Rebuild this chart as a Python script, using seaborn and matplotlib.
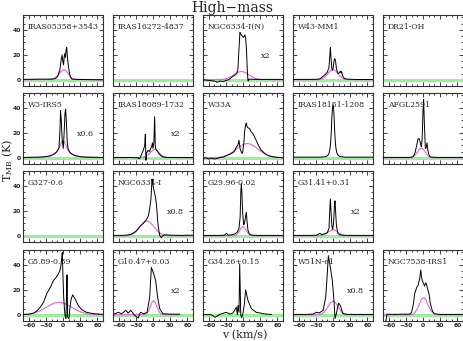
import numpy as np
import pandas as pd
import seaborn as sns
import matplotlib
matplotlib.use('Agg')
import matplotlib.pyplot as plt
from matplotlib.ticker import MultipleLocator

# ---- spectra (v in km/s, T_MB in K) ----
v_iras05358 = [-70, -40, -20, -13, -9, -5.5, -3.2, -1.6, 0, 1, 2, 3.2, 4.3, 5.4, 6.5, 7.5, 8.6, 11, 13, 16, 30, 70]
t_iras05358 = [0.3, 0.5, 0.5, 1, 3, 8, 16, 20, 14, 12, 18, 21, 18, 24, 26, 20, 14, 6, 2, 0.5, 0.2, 0]
gv_iras05358 = [-70, -22, -16, -11, -6.5, -3, 0, 2, 5.4, 8.6, 12, 16, 22, 70]
gt_iras05358 = [0, 0.3, 1, 2.5, 5, 6.9, 7.9, 8, 7.2, 5.3, 3.1, 1.2, 0.3, 0]

v_ngc6334n = [-70, -60, -50, -45, -40, -35, -30, -25, -20, -15, -11, -9, -7, -5.4, -4, -3, -1, 1, 2, 3.2, 4.5, 6, 7.5, 8.5, 9.3, 10, 12, 20, 40, 70]
t_ngc6334n = [0, -0.5, -1, -2, -1, -1.5, -0.5, 0, 2, 3.5, 5, 8, 25, 38, 37, 36, 35, 34, 35, 36, 34, 25, 8, 0, -1, 0.5, 0.5, 0.3, 0.3, 0.3]
gv_ngc6334n = [-70, -38, -32, -26, -20, -14, -8, -3, 2, 8, 14, 20, 26, 32, 70]
gt_ngc6334n = [0, 0.2, 0.56, 1.4, 2.85, 4.7, 6.2, 6.7, 6.2, 4.7, 2.85, 1.4, 0.56, 0.2, 0]

v_w43 = [-70, -40, -25, -22, -18, -14, -10, -7, -5.5, -4.6, -3.5, -2, -1, 0.5, 2, 3.2, 4.5, 6, 8.6, 11, 13, 14, 15, 17, 20, 25, 40, 70]
t_w43 = [0.3, 0.3, 0.5, 1, 2.5, 4, 6, 10, 20, 26, 18, 9, 7.5, 10, 16, 17, 15, 9, 5, 5.5, 7, 5.5, 6.5, 3, 1, 0.5, 0.2, 0.2]
gv_w43 = [-70, -25, -20, -16, -12, -8, -4, 0, 4, 8, 12, 16, 20, 25, 70]
gt_w43 = [0, 0.12, 0.56, 1.5, 3.1, 5.4, 7.5, 8.3, 7.5, 5.4, 3.1, 1.5, 0.56, 0.12, 0]

v_w3irs5 = [-70, -40, -30, -22, -16, -12, -9, -7, -5.5, -4.3, -3, -1.5, 0.5, 2, 3.5, 4.6, 6, 7.5, 9, 12, 16, 22, 30, 40, 70]
t_w3irs5 = [0.2, 0.5, 0.9, 1.6, 2.8, 4.3, 6, 8, 20, 38, 30, 15, 7.5, 20, 36, 39, 28, 12, 7, 4.3, 2.8, 1.6, 0.9, 0.5, 0.2]
gv_w3irs5 = [-70, -40, -30, -22, -16, -12, -8, -5, -2.5, 0, 2.5, 5, 8, 12, 16, 22, 30, 40, 70]
gt_w3irs5 = [0.2, 0.5, 0.9, 1.6, 2.8, 4.3, 7, 10, 12.7, 14, 12.7, 10, 7, 4.3, 2.8, 1.6, 0.9, 0.5, 0.2]

v_iras18089 = [-70, -40, -27, -24.5, -22, -19, -17, -16, -14.5, -13.4, -12.4, -11, -8.6, -6, -4, -2.5, -1, 0, 1.5, 2.9, 4.1, 6, 8, 11, 14, 18, 25, 70]
t_iras18089 = [0.3, 0.2, 0, -0.8, 0.5, 4, 6, 7.5, 10, 19, -2, 4, 6, 5, 7.5, 9, 12, 7.5, 12, 33, 8, 6.2, 5, 3, 1.5, 0.6, 0.2, 0.2]
gv_iras18089 = [-70, -20, -15, -10, -6, -3, 0, 2.9, 6, 9, 12, 16, 21, 26, 70]
gt_iras18089 = [0, 0.3, 0.8, 1.7, 3.4, 5, 6.2, 6.7, 6.2, 5, 3.4, 1.7, 0.8, 0.3, 0]

v_w33a = [-70, -65, -60, -55, -50, -45, -40, -35, -30, -25, -20, -15, -11.5, -9, -7, -5, -2.5, -1, 1.5, 3, 4.5, 5.8, 7, 9, 11.7, 14, 17, 20, 23, 27, 32, 38, 43, 50, 57, 63, 70]
t_w33a = [-0.5, 0, -1, -0.3, -1, -0.5, 0.3, 0.5, 1.5, 2.5, 3.5, 5, 8.8, 10, 14, 7, 4, 3.5, 12, 22, 26, 28, 25, 24, 23.5, 21, 19.5, 17, 14, 10, 6, 3.5, 2, 1, 0.5, 0.3, 0]
gv_w33a = [-70, -52.5, -42.5, -34.5, -28.5, -22.5, -16.5, -10.5, -4.5, 1.5, 7.5, 13.5, 19.5, 25.5, 31.5, 37.5, 43.5, 49.5, 57.5, 67.5, 70]
gt_w33a = [0, 0.08, 0.36, 1.0, 1.9, 3.3, 5.2, 7.3, 9.4, 10.9, 11.5, 10.9, 9.4, 7.3, 5.2, 3.3, 1.9, 1.0, 0.36, 0.08, 0.05]

v_iras18151 = [-70, -40, -20, -12, -9, -7, -5, -4, -3, -2, -1, 0, 1, 2, 3, 4, 5, 7, 9, 12, 20, 40, 70]
t_iras18151 = [0.5, 0.5, 0.5, 1, 2, 3.5, 8, 13, 21, 32, 40, 43, 40, 32, 21, 13, 8, 3.5, 2, 1, 0.5, 0.5, 0.5]

v_afgl2591 = [-70, -40, -22, -17, -14, -11, -9, -7, -5.8, -4, -2.9, -1.5, 0, 1.1, 2.2, 4.1, 5.5, 7, 8.5, 10, 12, 15, 25, 70]
t_afgl2591 = [0.3, 0.3, 0.3, 1, 4, 10, 15, 15.5, 14, 11, 8.8, 15, 38, 47, 30, 7.5, 8, 12, 6, 3, 1, 0.5, 0.3, 0.3]
gv_afgl2591 = [-70, -23, -19, -15, -11, -7, -2.9, 1, 5, 9, 13, 17, 70]
gt_afgl2591 = [0, 0.07, 0.4, 1.45, 3.75, 6.6, 8, 6.6, 3.75, 1.45, 0.4, 0.07, 0]

v_ngc6334i = [-70, -55, -46, -40, -35, -29, -23, -17, -11.5, -8, -5.8, -3.5, -1.7, -0.5, 1, 2.2, 3.4, 4.6, 6, 7, 8.5, 10.5, 12, 14.5, 17, 20.5, 30, 50, 70]
t_ngc6334i = [0.3, 0.3, 0.5, 1, 2, 4, 7.5, 10, 13, 16, 22, 30, 45.6, 42, 38, 35.5, 33, 30, 25, 19.5, 10, 3.5, 0, -1.5, 0, 0.8, 0.5, 0.3, 0.5]
gv_ngc6334i = [-70, -48.5, -40.5, -35.5, -30.5, -25.5, -20.5, -15.5, -10.5, -5.5, -0.5, 4.5, 9.5, 14.5, 19.5, 27.5, 70]
gt_ngc6334i = [0, 0.08, 0.5, 1.4, 3.0, 5.5, 8.5, 11, 12, 11, 8.5, 5.5, 3.0, 1.4, 0.5, 0.08, 0]

v_g2996 = [-70, -40, -32, -29, -26, -20, -14, -10, -7, -5, -3.8, -2.9, -2, -0.5, 1.1, 2.5, 4, 5.8, 7, 8.5, 10, 12, 16, 25, 70]
t_g2996 = [0.3, 0.3, 0.5, 2, 0.5, 0.8, 1.5, 3, 6, 15, 35, 42, 35, 18, 8.8, 10, 14, 19, 12, 5, 2.5, 1, 0.5, 0.3, 0.3]
gv_g2996 = [-70, -16, -12, -9, -6, -3, 0, 3, 6, 9, 12, 16, 70]
gt_g2996 = [0, 0.1, 0.63, 1.9, 4.05, 6.4, 7.5, 6.4, 4.05, 1.9, 0.63, 0.1, 0]

v_g3141 = [-70, -40, -28, -23, -20, -15, -10, -7, -5.5, -4.6, -3.5, -2, -0.5, 1, 2.5, 3.5, 4.5, 6, 8.6, 11, 15, 25, 70]
t_g3141 = [0.3, 0.3, 0.5, 2, 1, 1.5, 2.5, 6, 22, 29.6, 20, 8, 5, 10, 24, 28, 20, 8, 2, 1, 0.5, 0.3, 0.3]
gv_g3141 = [-70, -26, -20, -16, -12, -8, -4, 0, 4, 8, 12, 16, 20, 26, 70]
gt_g3141 = [0, 0.05, 0.3, 0.9, 1.8, 3.1, 4.3, 4.8, 4.3, 3.1, 1.8, 0.9, 0.3, 0.05, 0]

v_g589 = [-70, -60, -51.6, -46, -40, -34, -28.4, -22, -16.8, -12, -8.1, -5.2, -3.5, -2.3, -1.2, 0, 1.2, 2.5, 4, 5.2, 6.4, 7, 7.6, 8.1, 10.4, 12.2, 14, 16.8, 20.9, 26.7, 33, 41, 52, 64, 70]
t_g589 = [0.2, 0.5, 1.3, 3, 6, 10, 17, 22, 27.5, 30, 33, 35.5, 40, 45, 50, 30, 14, 5, -2, -3, 20, 32, 15, -2, -3, 6, 12, 16, 13, 7.5, 4, 2, 1, 0.5, 0.4]
gv_g589 = [-70, -63, -55, -47, -39, -31, -23, -15, -7, 1, 9, 17, 25, 33, 41, 49, 56, 70]
gt_g589 = [0.17, 0.39, 0.93, 1.9, 3.5, 5.5, 7.7, 9.4, 10, 9.4, 7.7, 5.5, 3.5, 1.9, 0.93, 0.39, 0.17, 0.02]

v_g1047 = [-70, -66.7, -61, -55, -47.5, -43.5, -38.8, -31.9, -26, -22, -16.2, -10.4, -5.8, -2.9, 1.2, 4.6, 8.1, 11.6, 17.4, 30, 47]
t_g1047 = [0.5, 0.8, 2, 0.8, 3.5, 1.3, 3.5, -0.5, -2.7, 2, 0.8, 1.9, 14, 38, 33, 27.5, 14, 5, 0.8, 0.5, 0.5]
gv_g1047 = [-70, -15, -11, -8, -5, -2, 1.2, 4, 7, 10, 13, 17, 47]
gt_g1047 = [0, 0.14, 1.0, 2.9, 6.2, 9.8, 11.5, 9.8, 6.2, 2.9, 1.0, 0.14, 0]

v_g3426 = [-70, -55, -49, -40.6, -29, -23, -17.4, -11.6, -9.9, -8.7, -7, -5.8, -4.6, -4, -2.3, 0, 2.3, 4.6, 8.7, 14.5, 23, 40.6, 50]
t_g3426 = [0.3, 0, -2, 0.3, 2, 0.5, 1.5, 6, 0, 7.5, 2, 41, 15, 0, -2.4, 1.5, 8, 20, 11.5, 5, 2, 0.5, 0.3]

v_w51n = [-70, -50, -35, -29, -24, -17.4, -12.8, -10.4, -8.1, -4.6, -1.2, 1.7, 3.5, 5.8, 8, 9.9, 12.8, 17.4, 25, 40, 70]
t_w51n = [0.3, 0.3, 0.5, 2, 1.5, 3.5, 14, 30, 47.5, 38, 27.5, 11.5, -3, 0.8, 6, 9.3, 7.5, 0.8, 0.3, 0.3, 0.3]
gv_w51n = [-70, -26, -20, -16, -12, -8, -4, 0, 4, 8, 12, 16, 20, 26, 70]
gt_w51n = [0, 0.11, 0.74, 1.9, 4.1, 7.1, 9.9, 11, 9.9, 7.1, 4.1, 1.9, 0.74, 0.11, 0]

v_ngc7538 = [-66, -63, -50, -35, -23, -20, -17, -14.5, -11, -8.7, -5.8, -4, -2.5, -1.2, 1, 2.9, 4.5, 5.8, 8, 10.4, 12.5, 14.5, 17, 20.3, 30, 70]
t_ngc7538 = [-8, 0.5, 0.3, 0.5, 0.5, 2, 8, 17, 22, 23.5, 29, 36, 30, 27.5, 25, 23, 25.5, 25, 21, 17, 10, 6, 2.5, 0.8, 0.3, 0.3]
gv_ngc7538 = [-70, -24, -19, -15, -11, -7, -3, 1.2, 5, 9, 13, 17, 21, 26, 70]
gt_ngc7538 = [0, 0.05, 0.4, 1.4, 3.9, 7.6, 12.3, 14, 12.3, 7.6, 3.9, 1.4, 0.4, 0.05, 0]

names = ['IRAS05358+3543', 'IRAS16272-4837', 'NGC6334-I(N)', 'W43-MM1', 'DR21-OH',
         'W3-IRS5', 'IRAS18089-1732', 'W33A', 'IRAS18151-1208', 'AFGL2591',
         'G327-0.6', 'NGC6334-I', 'G29.96-0.02', 'G31.41+0.31', None,
         'G5.89-0.39', 'G10.47+0.03', 'G34.26+0.15', 'W51N-e1', 'NGC7538-IRS1']
scale_labels = {'NGC6334-I(N)': 'x2', 'W3-IRS5': 'x0.6', 'IRAS18089-1732': 'x2',
                'NGC6334-I': 'x0.8', 'G31.41+0.31': 'x2', 'G10.47+0.03': 'x2',
                'W51N-e1': 'x0.8'}

spectra = {
    'IRAS05358+3543': (v_iras05358, t_iras05358, gv_iras05358, gt_iras05358),
    'NGC6334-I(N)': (v_ngc6334n, t_ngc6334n, gv_ngc6334n, gt_ngc6334n),
    'W43-MM1': (v_w43, t_w43, gv_w43, gt_w43),
    'W3-IRS5': (v_w3irs5, t_w3irs5, gv_w3irs5, gt_w3irs5),
    'IRAS18089-1732': (v_iras18089, t_iras18089, gv_iras18089, gt_iras18089),
    'W33A': (v_w33a, t_w33a, gv_w33a, gt_w33a),
    'IRAS18151-1208': (v_iras18151, t_iras18151, None, None),
    'AFGL2591': (v_afgl2591, t_afgl2591, gv_afgl2591, gt_afgl2591),
    'NGC6334-I': (v_ngc6334i, t_ngc6334i, gv_ngc6334i, gt_ngc6334i),
    'G29.96-0.02': (v_g2996, t_g2996, gv_g2996, gt_g2996),
    'G31.41+0.31': (v_g3141, t_g3141, gv_g3141, gt_g3141),
    'G5.89-0.39': (v_g589, t_g589, gv_g589, gt_g589),
    'G10.47+0.03': (v_g1047, t_g1047, gv_g1047, gt_g1047),
    'G34.26+0.15': (v_g3426, t_g3426, None, None),
    'W51N-e1': (v_w51n, t_w51n, gv_w51n, gt_w51n),
    'NGC7538-IRS1': (v_ngc7538, t_ngc7538, gv_ngc7538, gt_ngc7538),
}

sns.set_style('ticks')
plt.rcParams['font.family'] = ['DejaVu Sans']
plt.rcParams['mathtext.fontset'] = 'dejavuserif'

W, H = 464, 341
fig = plt.figure(figsize=(W / 100, H / 100), dpi=100)

lefts = [23, 113, 203, 293, 383]
tops = [15, 93, 171, 250]
pw, ph = 80, 71

for i, name in enumerate(names):
    if name is None:
        continue
    r, c = divmod(i, 5)
    ax = fig.add_axes([lefts[c] / W, 1 - (tops[r] + ph) / H, pw / W, ph / H])
    ax.axhline(0, color='#98f098', lw=2.2, zorder=1)
    if name in spectra:
        v, t, gv, gt = spectra[name]
        if gv is not None:
            sns.lineplot(x=gv, y=gt, ax=ax, color='#e860e8', lw=0.8,
                         estimator=None, sort=False, zorder=2)
        sns.lineplot(x=v, y=t, ax=ax, color='black', lw=0.7,
                     estimator=None, sort=False, zorder=3)
    ax.set_xlim(-70, 70)
    ax.set_ylim(-5, 52)
    ax.xaxis.set_major_locator(MultipleLocator(30))
    ax.xaxis.set_minor_locator(MultipleLocator(10))
    ax.yaxis.set_major_locator(MultipleLocator(20))
    ax.yaxis.set_minor_locator(MultipleLocator(5))
    ax.tick_params(which='both', direction='in', top=True, right=True,
                   width=0.6, colors='#222222', labelsize=4.3, pad=1.5)
    ax.tick_params(which='major', length=3)
    ax.tick_params(which='minor', length=1.5)
    for sp in ax.spines.values():
        sp.set_linewidth(0.8)
        sp.set_color('#333333')
    ax.set_xlabel('')
    ax.set_ylabel('')
    if r != 3:
        ax.set_xticklabels([])
    if c != 0:
        ax.set_yticklabels([])
    for lab in ax.get_xticklabels() + ax.get_yticklabels():
        lab.set_fontweight('bold')
    ax.text(0.06, 0.83, name, transform=ax.transAxes, ha='left', va='center',
            fontsize=5.6, family='DejaVu Serif', zorder=4)
    if name in scale_labels:
        ax.text(0.78, 0.42, scale_labels[name], transform=ax.transAxes,
                ha='center', va='center', fontsize=5.8, family='DejaVu Serif')

fig.text(0.5, 1 - 8 / H, 'High\u2212mass', ha='center', va='center',
         fontsize=10, family='DejaVu Serif')
fig.text(8 / W, 1 - 160 / H, r'T$_{\rm MB}$ (K)', ha='center', va='center',
         rotation=90, fontsize=8, family='DejaVu Serif')
fig.text(245 / W, 1 - 335 / H, 'v (km/s)', ha='center', va='center',
         fontsize=8, family='DejaVu Serif')

fig.savefig('out.png', dpi=100)
